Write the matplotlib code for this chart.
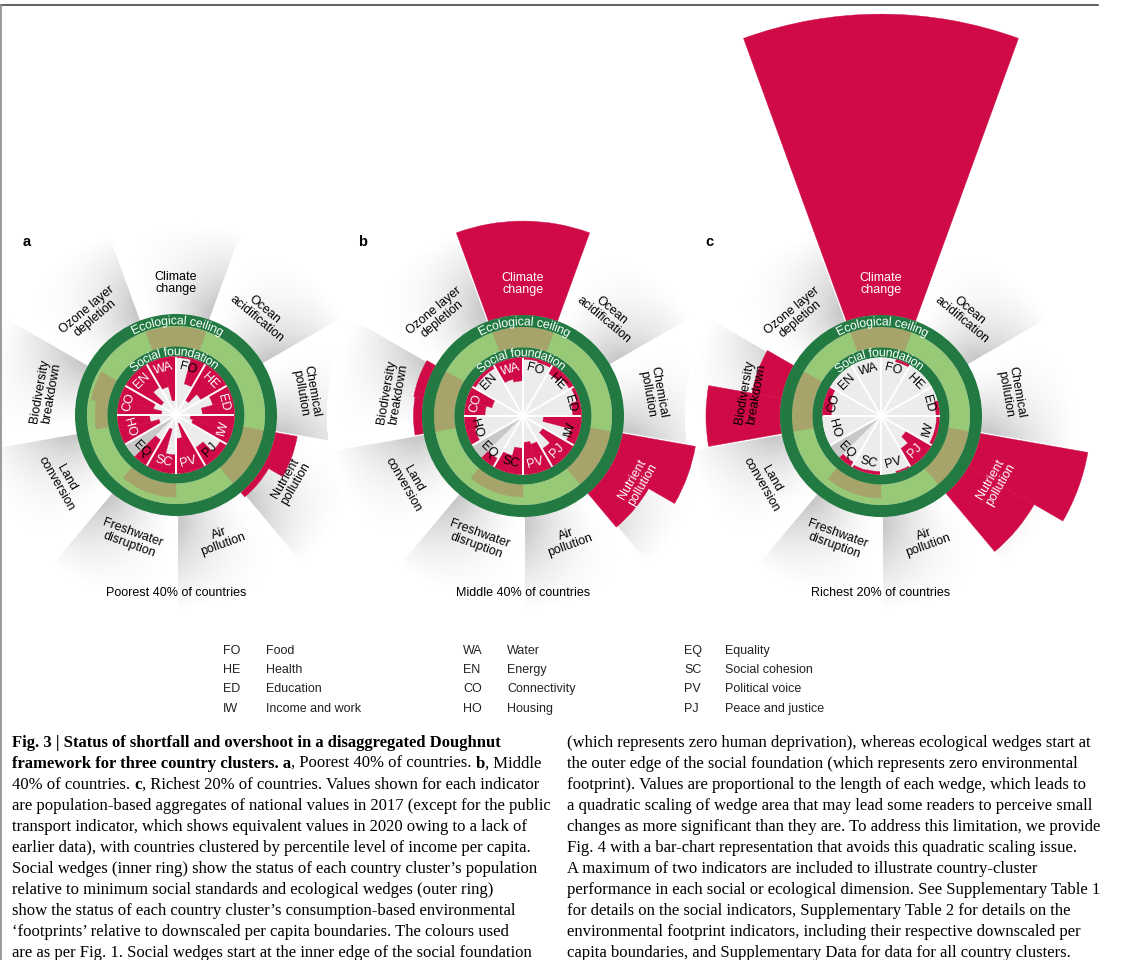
import numpy as np
import matplotlib
matplotlib.use("Agg")
import matplotlib.pyplot as plt
from matplotlib.font_manager import FontProperties
from matplotlib.lines import Line2D
from matplotlib.patches import PathPatch
from matplotlib.path import Path
from matplotlib.textpath import TextPath

W, H, DPI = 1121, 960, 100
plt.rcParams['font.family'] = ['Liberation Sans', 'DejaVu Sans']
nan = np.nan

# ---------------- data ----------------
# social dimensions clockwise from the top, two indicators (wedges) each
social_codes = ['FO', 'HE', 'ED', 'IW', 'PJ', 'PV', 'SC', 'EQ', 'HO', 'CO', 'EN', 'WA']
# shortfall as a share of the social foundation radius (nan = no data)
poorest_social = [0.02, 0.45, 0.70, 0.50, 0.35, 0.55, 0.75, 0.70, 0.12, 0.35, 0.85, 0.60,
                  0.32, 0.75, 0.50, nan, 0.70, 0.55, 0.75, 0.60, 0.70, 0.45, 0.50, 0.75]
middle_social = [0.03, 0.05, 0.15, 0.08, 0.05, 0.15, 0.65, 0.15, 0.60, 0.35, 0.50, 0.55,
                 0.45, 0.30, 0.15, nan, 0.15, 0.20, 0.35, 0.45, 0.05, 0.05, 0.35, 0.40]
richest_social = [0.00, 0.04, 0.00, 0.00, 0.00, 0.06, 0.05, 0.05, 0.50, 0.35, 0.02, 0.00,
                  0.05, 0.04, 0.08, nan, 0.00, 0.00, 0.15, 0.10, 0.00, 0.00, 0.00, 0.00]

# ecological dimensions clockwise from the top, two wedges each
eco_labels = ['Climate\nchange', 'Ocean\nacidification', 'Chemical\npollution',
              'Nutrient\npollution', 'Air\npollution', 'Freshwater\ndisruption',
              'Land\nconversion', 'Biodiversity\nbreakdown', 'Ozone layer\ndepletion']
# footprint relative to boundary (0 = social foundation edge, 1 = ecological ceiling)
poorest_eco = [0.74, 0.74, nan, nan, nan, nan, 2.06, 1.45, nan, nan,
               0.51, 0.51, nan, nan, 0.47, 0.66, nan, nan]
middle_eco = [4.77, 4.77, nan, nan, nan, nan, 4.02, 2.89, nan, nan,
              0.47, 0.47, nan, nan, 1.55, 1.60, nan, nan]
richest_eco = [12.58, 12.58, nan, nan, nan, nan, 5.34, 4.09, nan, nan,
               0.51, 0.51, nan, nan, 4.02, 2.36, nan, nan]

panel_letters = ['a', 'b', 'c']
panel_titles = ['Poorest 40% of countries', 'Middle 40% of countries', 'Richest 20% of countries']

legend_columns = [
    [('FO', 'Food'), ('HE', 'Health'), ('ED', 'Education'), ('IW', 'Income and work')],
    [('WA', 'Water'), ('EN', 'Energy'), ('CO', 'Connectivity'), ('HO', 'Housing')],
    [('EQ', 'Equality'), ('SC', 'Social cohesion'), ('PV', 'Political voice'), ('PJ', 'Peace and justice')],
]

caption_left = [
    "**Fig. 3 | Status of shortfall and overshoot in a disaggregated Doughnut**",
    "**framework for three country clusters. a**, Poorest 40% of countries. **b**, Middle",
    "40% of countries. **c**, Richest 20% of countries. Values shown for each indicator",
    "are population-based aggregates of national values in 2017 (except for the public",
    "transport indicator, which shows equivalent values in 2020 owing to a lack of",
    "earlier data), with countries clustered by percentile level of income per capita.",
    "Social wedges (inner ring) show the status of each country cluster\u2019s population",
    "relative to minimum social standards and ecological wedges (outer ring)",
    "show the status of each country cluster\u2019s consumption-based environmental",
    "\u2018footprints\u2019 relative to downscaled per capita boundaries. The colours used",
    "are as per Fig. 1. Social wedges start at the inner edge of the social foundation",
]
caption_right = [
    "(which represents zero human deprivation), whereas ecological wedges start at",
    "the outer edge of the social foundation (which represents zero environmental",
    "footprint). Values are proportional to the length of each wedge, which leads to",
    "a quadratic scaling of wedge area that may lead some readers to perceive small",
    "changes as more significant than they are. To address this limitation, we provide",
    "Fig. 4 with a bar-chart representation that avoids this quadratic scaling issue.",
    "A maximum of two indicators are included to illustrate country-cluster",
    "performance in each social or ecological dimension. See Supplementary Table 1",
    "for details on the social indicators, Supplementary Table 2 for details on the",
    "environmental footprint indicators, including their respective downscaled per",
    "capita boundaries, and Supplementary Data for data for all country clusters.",
]

# ---------------- style ----------------
RED = '#cf0a46'
DKGREEN = '#227a42'
LTGREEN = '#98c977'
OLIVE = '#a6a46a'
DISK = '#ececec'
NODATA = '#c8c8c8'

R_IN, R_SF, R_CI, R_CO, R_BND = 58.5, 68.5, 89.0, 101.0, 95.0
R_FADE = 196.0
RMAX = 412
centres = [(176, 415), (523, 416), (881, 416)]
FS = 9

fig = plt.figure(figsize=(W / DPI, H / DPI), dpi=DPI)
fig.patch.set_facecolor('white')
renderer = fig.canvas.get_renderer()


def tang_rot(th):
    th = th % 360
    return 180 - th if 90 < th < 270 else -th


def polar_axes(cx, cy, z):
    ax = fig.add_axes([(cx - RMAX) / W, (H - cy - RMAX) / H, 2 * RMAX / W, 2 * RMAX / H],
                      projection='polar', zorder=z)
    ax.set_theta_zero_location('N')
    ax.set_theta_direction(-1)
    ax.axis('off')
    return ax


def arc_text(ax, s, r_base, centre_deg, size, color):
    # glyph outlines bent along a circle of radius r_base (top of the ring)
    tp = TextPath((0, 0), s, size=size * DPI / 72, prop=FontProperties(family='Liberation Sans'))
    ext = tp.get_extents()
    v = tp.vertices
    r_mid = r_base + 0.36 * size * DPI / 72
    th = np.radians(centre_deg) + (v[:, 0] - (ext.x0 + ext.x1) / 2) / r_mid
    rr = r_base + v[:, 1]
    ax.add_patch(PathPatch(Path(np.column_stack([th, rr]), tp.codes),
                           facecolor=color, edgecolor='none', zorder=9))


def draw_background(cx, cy):
    ax = polar_axes(cx, cy, 0)
    th_e = np.linspace(0, 2 * np.pi, 721)
    r_e = np.linspace(R_CO - 2, R_FADE, 61)
    thc = np.degrees((th_e[:-1] + th_e[1:]) / 2)
    rc = (r_e[:-1] + r_e[1:]) / 2
    u = ((thc + 20) % 40) / 40
    g = np.clip((R_FADE - rc) / (R_FADE - 112), 0, 1) ** 1.1
    shade = 0.23 * g[:, None] * (u[None, :] ** 1.6)
    ax.pcolormesh(th_e, r_e, shade, cmap='gray_r', vmin=0, vmax=1, shading='flat',
                  edgecolors='none', antialiased=False, zorder=0)
    for k in range(9):
        t = np.radians(20 + 40 * k)
        ax.plot([t, t], [R_CO, R_FADE + 5], color='white', lw=2.2, zorder=1,
                solid_capstyle='butt')
    ax.set_ylim(0, RMAX)


def draw_panel(cx, cy, social, eco):
    ax = polar_axes(cx, cy, 1)

    # safe space
    ax.bar(0, R_CI - R_SF, width=2 * np.pi, bottom=R_SF, color=LTGREEN, lw=0, zorder=1)

    # ecological wedges
    for i, v in enumerate(eco):
        if np.isnan(v):
            continue
        c = np.radians(-20 + 20 * i + 10)
        r = R_SF + v * (R_BND - R_SF)
        ax.bar(c, min(r, R_CI) - R_SF, width=np.radians(20), bottom=R_SF,
               color=OLIVE, edgecolor=OLIVE, lw=0.3, zorder=2)
        if r > R_CO:
            ax.bar(c, r - R_CO, width=np.radians(20), bottom=R_CO,
                   color=RED, edgecolor=RED, lw=0.3, zorder=2)

    # rings and inner disk
    ax.bar(0, R_CO - R_CI, width=2 * np.pi, bottom=R_CI, color=DKGREEN, lw=0, zorder=3)
    ax.bar(0, R_SF - R_IN, width=2 * np.pi, bottom=R_IN, color=DKGREEN, lw=0, zorder=3)
    ax.bar(0, R_IN, width=2 * np.pi, bottom=0, color=DISK, lw=0, zorder=3)

    # social wedges
    for i, v in enumerate(social):
        c = np.radians(7.5 + 15 * i)
        if np.isnan(v):
            ax.bar(c, R_IN, width=np.radians(15), bottom=0, color=NODATA, lw=0, zorder=4)
        elif v > 0:
            ax.bar(c, R_IN * v, width=np.radians(15), bottom=R_IN * (1 - v),
                   color=RED, edgecolor=RED, lw=0.3, zorder=4)
    for k in range(12):
        t = np.radians(30 * k)
        ax.plot([t, t], [0, R_IN], color='white', lw=1.4, zorder=5, solid_capstyle='butt')

    # social labels
    for k, code in enumerate(social_codes):
        th = 15 + 30 * k
        pair = social[2 * k:2 * k + 2]
        col = 'white' if all((not np.isnan(p)) and p > 0.3 for p in pair) else 'black'
        ax.text(np.radians(th), 48.5, code, rotation=tang_rot(th), rotation_mode='anchor',
                ha='center', va='center', fontsize=FS, color=col, zorder=8)

    # ecological labels
    for k, lab in enumerate(eco_labels):
        th = 40 * k
        pair = [R_SF + p * (R_BND - R_SF) for p in eco[2 * k:2 * k + 2]]
        col = 'white' if all((not np.isnan(p)) and p > 140 for p in pair) else 'black'
        ax.text(np.radians(th), 132, lab, rotation=tang_rot(th), rotation_mode='anchor',
                ha='center', va='center', ma='center', linespacing=1.0,
                fontsize=FS, color=col, zorder=8)

    arc_text(ax, 'Ecological ceiling', 90.7, 1, FS, 'white')
    arc_text(ax, 'Social foundation', 59.8, -2, FS, 'white')
    ax.set_ylim(0, RMAX)


for cx, cy in centres:
    draw_background(cx, cy)

for (cx, cy), soc, eco, title in zip(centres, [poorest_social, middle_social, richest_social],
                                     [poorest_eco, middle_eco, richest_eco], panel_titles):
    draw_panel(cx, cy, soc, eco)
    fig.text(cx / W, 1 - 593 / H, title, ha='center', va='center', fontsize=FS, zorder=5)

for x, letter in zip([23, 358, 705], panel_letters):
    fig.text(x / W, 1 - 242 / H, letter, ha='left', va='center', fontsize=10.5,
             fontweight='bold', zorder=5)

# frame lines
fig.add_artist(Line2D([0, 1098 / W], [1 - 5 / H, 1 - 5 / H], color='#444444', lw=1.2))
fig.add_artist(Line2D([1.5 / W, 1.5 / W], [0, 1 - 5 / H], color='#8a8a8a', lw=1.2))

# legend of social codes
rows_y = [651, 670, 689, 709]
for (xc, xn), col in zip([(223, 266), (463, 507), (684, 725)], legend_columns):
    for y, (code, name) in zip(rows_y, col):
        fig.text(xc / W, 1 - y / H, code, ha='left', va='center', fontsize=FS, color='#222222')
        fig.text(xn / W, 1 - y / H, name, ha='left', va='center', fontsize=FS, color='#222222')

# caption
CAP = ['Liberation Serif', 'DejaVu Serif']


def text_width(s, size, bold):
    t = fig.text(0, 0, s, fontsize=size, family=CAP, fontweight='bold' if bold else 'normal')
    w = t.get_window_extent(renderer).width
    t.remove()
    return w


cap_size = 11 * 539 / text_width(caption_left[3], 11, False)
space_w = text_width('a a', cap_size, False) - text_width('aa', cap_size, False)


def rich_line(x, y, line):
    for j, seg in enumerate(line.split('**')):
        if not seg:
            continue
        bold = j % 2 == 1
        lead = len(seg) - len(seg.lstrip(' '))
        trail = len(seg) - len(seg.rstrip(' '))
        x += lead * space_w
        s = seg.strip(' ')
        fig.text(x / W, 1 - y / H, s, fontsize=cap_size, family=CAP, color='#000000',
                 fontweight='bold' if bold else 'normal', ha='left', va='baseline')
        x += text_width(s, cap_size, bold) + trail * space_w


for i, line in enumerate(caption_left):
    rich_line(12, 747 + 21 * i, line)
for i, line in enumerate(caption_right):
    rich_line(567, 747 + 21 * i, line)

fig.savefig('out.png', dpi=DPI, facecolor='white')
